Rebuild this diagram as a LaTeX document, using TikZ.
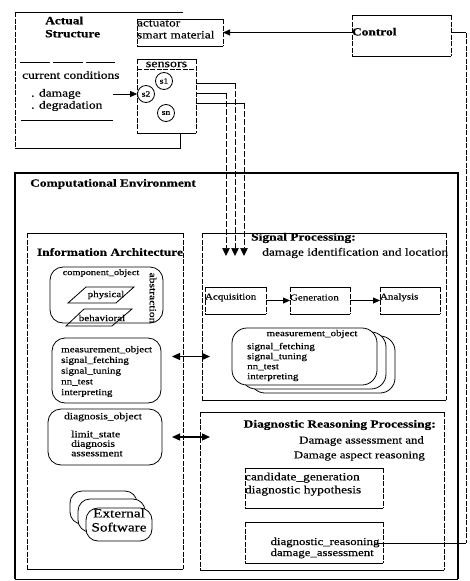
\documentclass[tikz,border=0pt]{standalone}
\usepackage{fontspec}
\setmainfont[FakeStretch=1.22, FakeBold=0.4]{Liberation Serif}
\usetikzlibrary{arrows.meta,fit,calc}
\newcommand{\myfs}[2]{\fontsize{#1}{#2}\selectfont}
\newcommand{\scanframe}[1]{%
  \draw[ln] (#1.north west) -- (#1.north east) (#1.south west) -- (#1.south east);
  \draw[side] (#1.north west) -- (#1.south west) (#1.north east) -- (#1.south east);}
\tikzset{
  ln/.style={line width=0.8pt},
  side/.style={line width=0.7pt, dash pattern=on 5pt off 1.5pt},
  vline/.style={line width=0.7pt, dash pattern=on 6pt off 2pt, -{Triangle[length=8pt,width=7.5pt]}},
  bx/.style={draw=none, inner sep=0pt, outer sep=0pt},
  hdr/.style={font=\bfseries\myfs{11}{13}, inner sep=0pt, align=left},
  txt/.style={font=\myfs{11}{12}, inner sep=0pt, align=left},
  sml/.style={font=\myfs{9}{10.5}, inner sep=0pt, align=left},
  arr/.style={ln, -{Triangle[length=7pt,width=6pt]}},
  dbl/.style={line width=1.3pt, {Triangle[length=8pt,width=7pt]}-{Triangle[length=8pt,width=7pt]}},
  rbox/.style={draw, ln, rounded corners=13pt, inner sep=0pt, outer sep=0pt},
}
\begin{document}
\begin{tikzpicture}[x=1pt,y=-1pt]
\useasboundingbox (0,0) rectangle (469,581);

% ---------- Actual structure ----------
\node[hdr, anchor=west] (actT) at (45,27) {Actual\\Structure};
\node[fit={(137,19) (223,46)}, bx, txt] (act) {actuator\\smart material};
\scanframe{act}
\node[fit={(352,15) (451,56)}, bx, hdr] (ctrl) {Control};
\scanframe{ctrl}
\node[fit={(137,59) (196,133)}, bx] (sens) {};
\scanframe{sens}
\node[txt, font=\myfs{11.5}{12}] (sensT) at (166.5,64.5) {sensors};
\draw[side] (sens.west |- 0,69) -- (sens.east |- 0,69);
\node[circle, draw, ln, minimum size=17pt, inner sep=0pt, font=\myfs{8}{8}] (s1) at (164,81) {s1};
\node[circle, draw, ln, minimum size=17pt, inner sep=0pt, font=\myfs{8}{8}] (s2) at (146,94) {s2};
\node[circle, draw, ln, minimum size=17pt, inner sep=0pt, font=\myfs{8}{8}] (sn) at (166,113) {sn};

\draw[ln] (16,12) -- (183,12);
\draw[side] (15,12) -- (15,148);
\coordinate (asb) at (180,148);
\draw[ln] (15,148) -- (asb) -- (asb |- sens.south);

\draw[ln, dash pattern=on 30pt off 3pt] (20,62) -- (115,62);
\draw[ln] (21,120) -- (113,120);
\node[txt, anchor=west] (cc) at (22,75) {current conditions};
\node[txt, anchor=west] (dmg) at (31,94) {. damage};
\node[txt, anchor=west] (deg) at (31,106) {. degradation};
\coordinate (dmgstart) at (113,94);
\draw[arr] (dmgstart) -- (s2);

% control connections
\draw[arr] (ctrl.west |- act.east) -- (act.east);
\coordinate (fb1) at (466,32.5);
\coordinate (fb2) at (466,543);
\draw[ln] (ctrl.east |- act.east) -- (fb1);
\draw[side] (fb1) -- (fb2);

% sensor signal lines
\coordinate (v1) at (235,83);
\coordinate (v2) at (226,93);
\coordinate (v3) at (244,103);
\coordinate (t1) at (235,256);
\coordinate (t2) at (226,256);
\coordinate (t3) at (244,256);
\draw[ln] (sens.east |- v1) -- (v1);
\draw[ln] (sens.east |- v2) -- (v2);
\draw[ln] (sens.east |- v3) -- (v3);
\draw[vline] (v1) -- (t1);
\draw[vline] (v2) -- (t2);
\draw[vline] (v3) -- (t3);

% ---------- Computational environment ----------
\node[fit={(15,173) (458,579)}, bx] (comp) {};
\draw[line width=2.4pt] (comp.south west) -- (comp.north west) -- (comp.north east) -- (comp.south east);
\draw[ln] (comp.south west) -- (comp.south east);
\node[hdr] (compT) at (113,184) {Computational Environment};

% Information architecture
\node[fit={(27,233) (183,569)}, bx] (ia) {};
\scanframe{ia}
\node[hdr] (iaT) at (110,252) {Information Architecture};

\node[fit={(50,267) (163,323)}, rbox] (cobj) {};
\node[sml, font=\myfs{8.5}{9}] (cobjT) at (101,273) {component\_object};
\node[sml, font=\myfs{9.5}{10}, rotate=-90] (abst) at (153,298) {abstraction};
\draw[ln] (86,287) -- (134,287) -- (116,303) -- (68,303) -- cycle;
\node[sml] (phys) at (106,295) {physical};
\draw[ln] (84,309) -- (132,309) -- (112,326) -- (66,326) -- cycle;
\node[sml] (behv) at (102,318) {behavioral};

\node[fit={(52,338) (161,403)}, rbox] (mobjL) {};
\node[sml, font=\myfs{9}{10.7}, anchor=west] (mobjLT) at (61,371.5) {measurement\_object\\signal\_fetching\\signal\_tuning\\nn\_test\\interpreting};

\node[fit={(48,409) (162,465)}, rbox] (dobj) {};
\node[sml, font=\myfs{9.5}{10}] (dobjT) at (103,417) {diagnosis\_object};
\node[sml, font=\myfs{9.5}{9.5}, anchor=west] (dobjI) at (71,443.5) {limit\_state\\diagnosis\\assessment};

\draw[ln, rounded corners=12pt, fill=white] (70,491) rectangle (137,524);
\draw[ln, rounded corners=12pt, fill=white] (78,499) rectangle (145,532);
\node[fit={(86,508) (152,541)}, rbox, rounded corners=12pt, fill=white, align=center, font=\myfs{12.5}{14}] (ext) {External\\Software};

% Signal processing
\node[fit={(202,233) (446,400)}, bx] (sig) {};
\scanframe{sig}
\node[hdr, anchor=west] (sigT) at (251,238) {Signal Processing:};
\node[txt, anchor=west] (sigS) at (262,253) {damage identification and location};

\node[fit={(205,287) (266,314)}, bx, sml] (acq) {Acquisition};
\scanframe{acq}
\node[fit={(290,287) (350,314)}, bx, sml] (gen) {Generation};
\scanframe{gen}
\node[fit={(380,287) (440,314)}, bx, sml] (ana) {Analysis};
\scanframe{ana}
\draw[arr] (acq) -- (gen);
\draw[arr] (gen) -- (ana);

\draw[ln, rounded corners=15pt, fill=white] (250,336) rectangle (395,393);
\draw[ln, rounded corners=15pt, fill=white] (241,332) rectangle (386,389);
\node[fit={(232,328) (377,385)}, rbox, rounded corners=15pt, fill=white] (mobjR) {};
\node[sml] (mobjRT) at (312,334) {measurement\_object};
\node[sml, font=\myfs{9}{10}, anchor=west] (mobjRI) at (247,362) {signal\_fetching\\signal\_tuning\\nn\_test\\interpreting};

% Diagnostic reasoning
\node[fit={(200,412) (444,570)}, bx] (dbox) {};
\scanframe{dbox}
\node[hdr, anchor=east] (dT1) at (436,425) {Diagnostic Reasoning Processing:};
\node[txt, font=\myfs{10.5}{12}, anchor=east] (dT2) at (424,441) {Damage assessment and};
\node[txt, font=\myfs{10.5}{12}, anchor=east] (dT3) at (425,456) {Damage aspect reasoning};

\node[fit={(245,468) (383,508)}, bx, txt, font=\myfs{11}{13}] (cand) {candidate\_generation\\diagnostic hypothesis};
\scanframe{cand}
\node[fit={(245,522) (383,563)}, bx] (dreason) {};
\scanframe{dreason}
\node[txt, font=\myfs{10.5}{11}] (dreasonT) at (325,548) {diagnostic\_reasoning\\damage\_assessment};

% double arrows
\draw[dbl, shorten <=11pt, shorten >=22pt] (mobjL.east |- mobjR.west) -- (mobjR.west);
\draw[dbl, shorten <=10pt, shorten >=-10pt] (dobj.east) -- (dobj.east -| dbox.west);

% feedback into diagnostic reasoning
\draw[ln] (fb2) -- ([xshift=-6pt]dreason.east |- fb2);
\end{tikzpicture}
\end{document}
